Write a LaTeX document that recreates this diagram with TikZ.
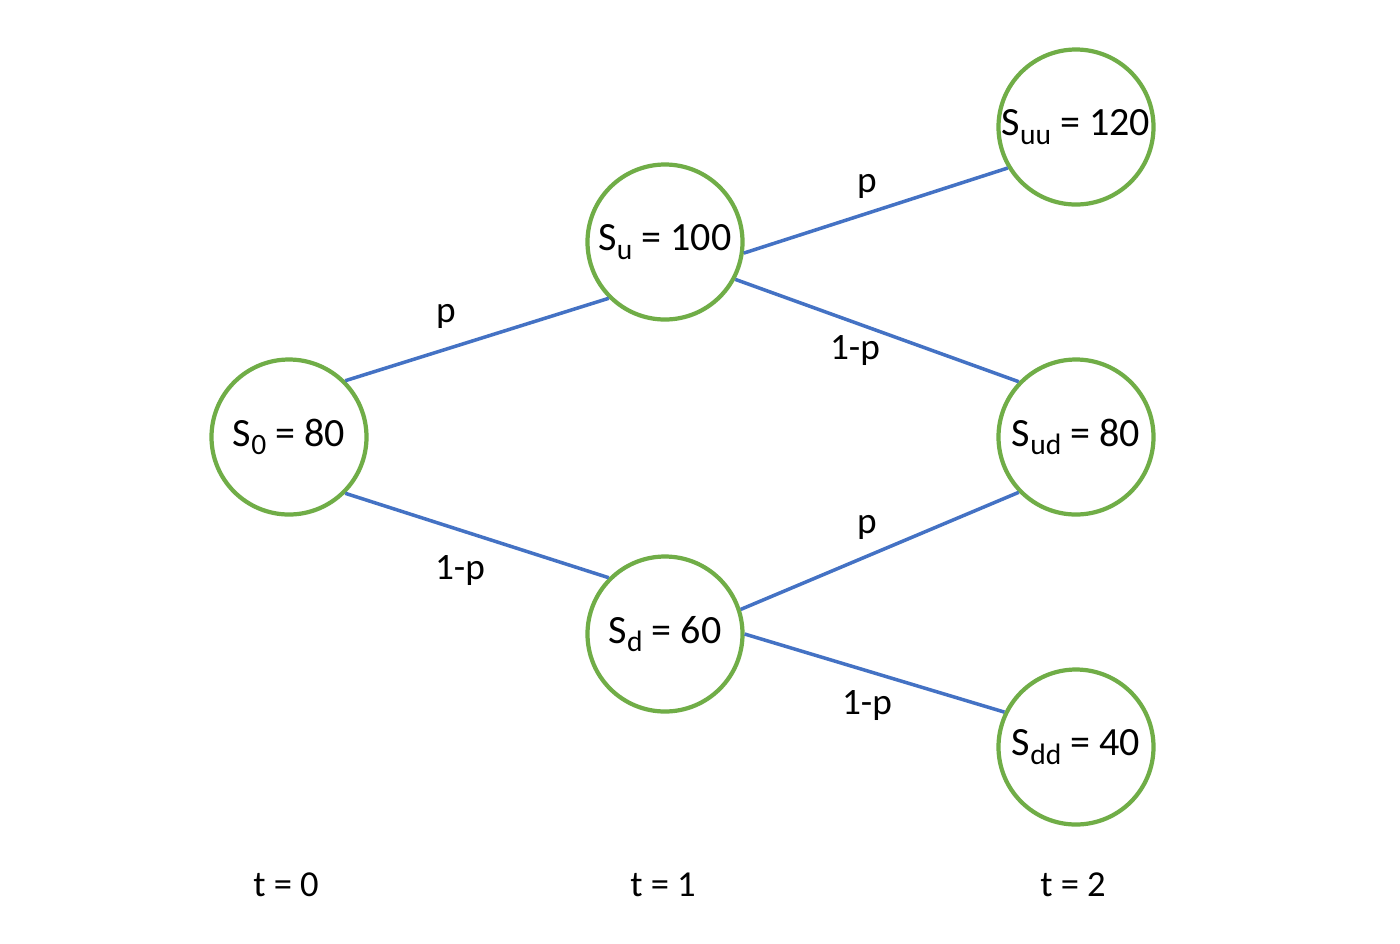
\documentclass[tikz,border=0pt]{standalone}
\usepackage{fontspec}
\setmainfont{Carlito}
\usetikzlibrary{positioning}
\definecolor{edgeblue}{HTML}{4472C4}
\definecolor{ringgreen}{HTML}{70AD47}
\newcommand{\lowidx}[1]{\raisebox{-0.45ex}{\fontsize{8.4}{9}\selectfont #1}}
\tikzset{
  state/.style={circle,draw=ringgreen,line width=1.2pt,minimum size=1.55cm,inner sep=0pt,font=\fontsize{11.4}{13}\selectfont},
  branch/.style={draw=edgeblue,line width=1pt},
  prob/.style={font=\fontsize{10.6}{13}\selectfont},
  stamp/.style={font=\fontsize{10.4}{13}\selectfont}
}
\begin{document}
\begin{tikzpicture}
\useasboundingbox[fill=white] (0,0) rectangle (14,-9.43);
\node[state] (s0) at (2.89,-4.37) {S\lowidx{0} = 80};
\node[state] (su) at (6.65,-2.42) {S\lowidx{u} = 100};
\node[state] (sd) at (6.65,-6.34) {S\lowidx{d} = 60};
\node[state] (suu) at (10.76,-1.27) {S\lowidx{uu} = 120};
\node[state] (sud) at (10.76,-4.37) {S\lowidx{ud} = 80};
\node[state] (sdd) at (10.76,-7.47) {S\lowidx{dd} = 40};
\draw[branch] (s0.45) -- (su.225);
\draw[branch] (s0.-45) -- (sd.135);
\draw[branch] (su.-8) -- (suu.211);
\draw[branch] (su.-28) -- (sud.136);
\draw[branch] (sd.18) -- (sud.224);
\draw[branch] (sd.0) -- (sdd.154);
\node[prob] (p1) at (4.46,-3.16) {p};
\node[prob] (q1) at (4.60,-5.70) {1-p};
\node[prob] (p2) at (8.67,-1.86) {p};
\node[prob] (q2) at (8.55,-3.50) {1-p};
\node[prob] (p3) at (8.67,-5.27) {p};
\node[prob] (q3) at (8.67,-7.05) {1-p};
\node[stamp] (t0) at (2.86,-8.85) {t = 0};
\node[stamp] (t1) at (6.63,-8.85) {t = 1};
\node[stamp] (t2) at (10.73,-8.85) {t = 2};
\end{tikzpicture}
\end{document}
